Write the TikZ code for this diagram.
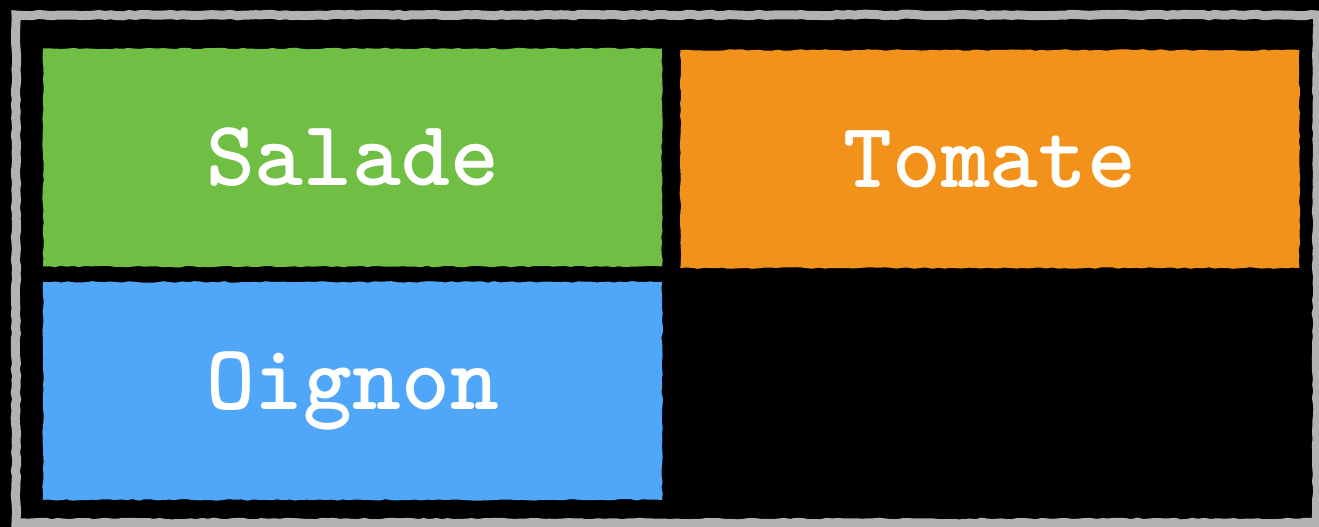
\documentclass[tikz,border=0pt]{standalone}
\usepackage{tikz}
\usepackage{xcolor}
\usetikzlibrary{positioning,decorations.pathmorphing}
\definecolor{saladegreen}{RGB}{112,190,68}
\definecolor{tomateorange}{RGB}{243,146,26}
\definecolor{oignonblue}{RGB}{80,167,250}
\definecolor{framegray}{RGB}{178,178,178}

\begin{document}
\begin{tikzpicture}[x=1pt,y=-1pt,
          sketch/.style={decorate,decoration={random steps,segment length=6pt,amplitude=0.8pt}},
          tile/.style={sketch,inner sep=0pt,minimum width=619pt,minimum height=218pt,
                       text=white,font=\ttfamily\bfseries\fontsize{93}{93}\selectfont}]
        \pgfmathsetseed{11}
        % canvas
        \fill[black] (0,0) rectangle (1319,527);
        \useasboundingbox (0,0) rectangle (1319,527);
        \draw[framegray,line width=9pt,sketch] (16,15) rectangle (1317,523);
        % tiles
        \node[tile,fill=saladegreen] (salade) at (352.5,157.5) {Salade};
        \node[tile,fill=tomateorange,right=18pt of salade,yshift=-1.5pt] (tomate) {Tomate};
        \node[tile,fill=oignonblue,below=15pt of salade] (oignon) {Oignon};
      \end{tikzpicture}
\end{document}
